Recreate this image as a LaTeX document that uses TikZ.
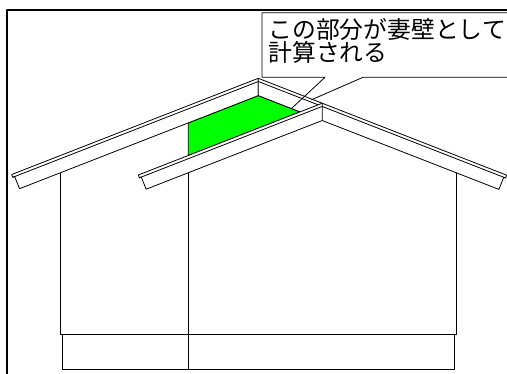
\documentclass[tikz,border=0pt]{standalone}
\usepackage{fontspec}
\newfontfamily\jpfont{Noto Sans CJK JP}
\definecolor{gable}{RGB}{0,255,0}
\begin{document}
\begin{tikzpicture}[x=1pt, y=-1pt, line join=round, line cap=round,
	edge/.style={line width=0.8pt},
	slab/.style={edge, fill=white},
	label/.style={anchor=base west, inner sep=0pt, font=\jpfont\fontsize{23.8}{23.8}\selectfont}]
	\useasboundingbox (0,0) rectangle (507,374);
	\clip (0,0) rectangle (507,374);
	\path
	% back roof, left slope
	(11.7,174.5) coordinate (A1)
	(12.8,177.3) coordinate (A2)
	(14.7,176.6) coordinate (A3)
	(19.5,188.7) coordinate (A4)
	(258.3,78.3) coordinate (R1)
	(258.3,81.5) coordinate (R2)
	(258.3,95.6) coordinate (R3)
	% right slope
	(506.7,175.2) coordinate (C1)
	(505.6,178.0) coordinate (C2)
	(503.7,177.3) coordinate (C3)
	(498.9,189.4) coordinate (C4)
	% front roof, left slope
	(138.3,175.0) coordinate (B1)
	(139.4,177.8) coordinate (B2)
	(141.3,177.1) coordinate (B3)
	(146.1,189.2) coordinate (B4)
	(322.3,103.2) coordinate (F1)
	(322.3,106.4) coordinate (F2)
	(322.3,120.5) coordinate (F3)
	% gable wall
	(188.3,122.9) coordinate (G1)
	(300.1,111.9) coordinate (G3)
	(188.3,155.5) coordinate (G4)
	% walls
	(60.7,172.6) coordinate (W1)
	(60.7,334.3) coordinate (W2)
	(456.7,334.3) coordinate (W3)
	(456.7,172.9) coordinate (W4)
	(188.3,172.7) coordinate (M1)
	(188.3,369.0) coordinate (M2)
	(62.0,334.3) coordinate (S1)
	(62.0,369.0) coordinate (S2)
	(454.3,369.0) coordinate (S3)
	(454.3,334.3) coordinate (S4)
	% callout
	(262,77.3) coordinate (K1)
	(262,12.7) coordinate (K2)
	(530,12.7) coordinate (K3)
	(530,77.3) coordinate (K4)
	(325,77.3) coordinate (P1)
	(363,77.3) coordinate (P2)
	(291.7,108.3) coordinate (T)
	(311.5,99.8) coordinate (H)
	;
	\draw[line width=2.2pt] (7.3,9.8) rectangle (540,400);
	\draw[edge] (W1) -- (W2) -- (W3) -- (W4);
	\draw[edge] (S1) -- (S2) -- (S3) -- (S4);
	\draw[edge] (M1) -- (M2);
	\draw[edge, fill=gable] (G1) -- (R3) -- (G3) -- (G4) -- cycle;
	\draw[slab] (A1) -- (R1) -- (R3) -- (A4) -- (A3) -- (A2) -- cycle;
	\draw[edge] (A2) -- (R2);
	\draw[slab] (R1) -- (C1) -- (C2) -- (C3) -- (C4) -- (R3) -- cycle;
	\draw[edge] (R2) -- (C2);
	\draw[slab] (B1) -- (F1) -- (F3) -- (B4) -- (B3) -- (B2) -- cycle;
	\draw[edge] (B2) -- (F2);
	\draw[edge] (T) -- (P1) -- (K1) -- (K2) -- (K3);
	\draw[edge] (K4) -- (P2) -- (H);
	\node[label] (line1) at (268.3,38.5) {この部分が妻壁として};
	\node[label] (line2) at (268.3,61.8) {計算される};
\end{tikzpicture}
\end{document}
